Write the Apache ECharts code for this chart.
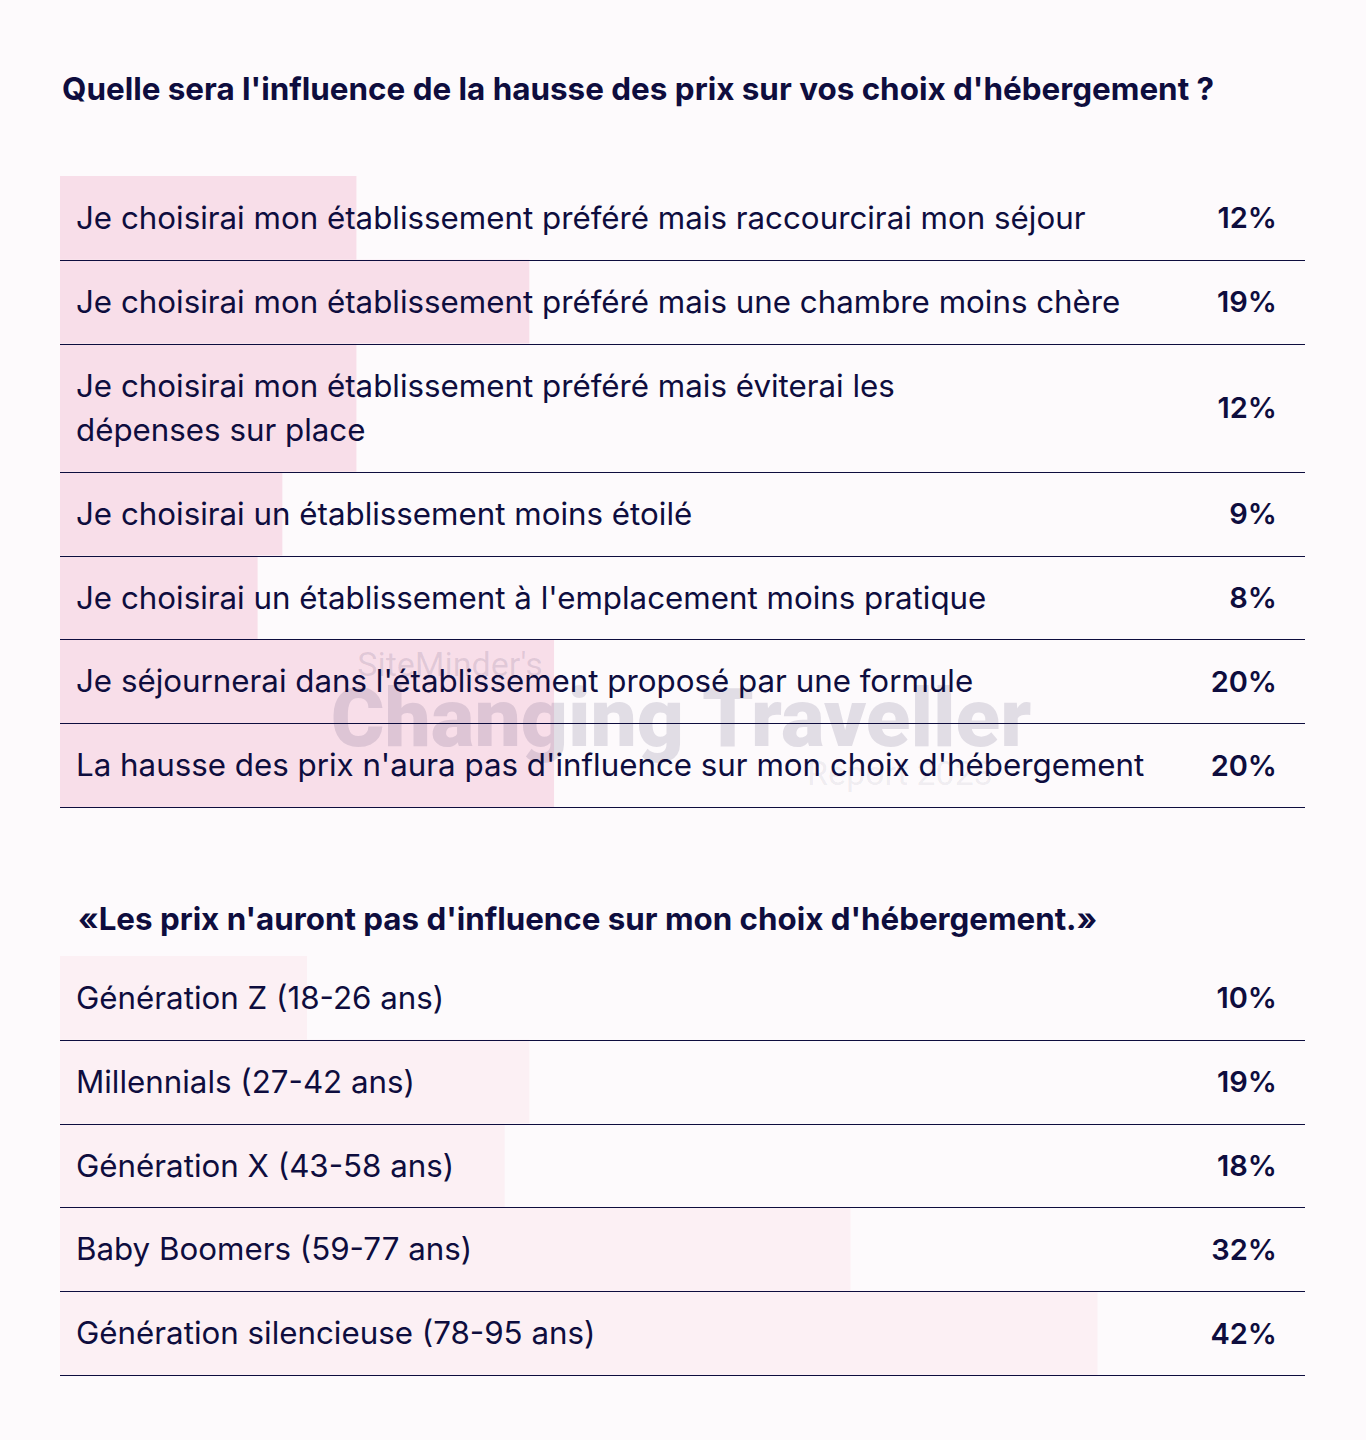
<!DOCTYPE html>
<html><head><meta charset="utf-8">
<script src="https://cdn.jsdelivr.net/npm/echarts@6/dist/echarts.min.js"></script>
<style>html,body{margin:0;padding:0;background:#fdfafc;} #c{width:1366px;height:1440px;}</style>
</head><body><div id="c"></div>
<script>
// ---- data ----
const title1 = "Quelle sera l'influence de la hausse des prix sur vos choix d'hébergement ?";
const categories1 = [
  "Je choisirai mon établissement préféré mais raccourcirai mon séjour",
  "Je choisirai mon établissement préféré mais une chambre moins chère",
  "Je choisirai mon établissement préféré mais éviterai les\ndépenses sur place",
  "Je choisirai un établissement moins étoilé",
  "Je choisirai un établissement à l'emplacement moins pratique",
  "Je séjournerai dans l'établissement proposé par une formule",
  "La hausse des prix n'aura pas d'influence sur mon choix d'hébergement"
];
const values1 = [12, 19, 12, 9, 8, 20, 20];
const title2 = "«Les prix n'auront pas d'influence sur mon choix d'hébergement.»";
const categories2 = [
  "Génération Z (18-26 ans)",
  "Millennials (27-42 ans)",
  "Génération X (43-58 ans)",
  "Baby Boomers (59-77 ans)",
  "Génération silencieuse (78-95 ans)"
];
const values2 = [10, 19, 18, 32, 42];
const watermark = ["SiteMinder's", "Changing Traveller", "Report 2023"];

// ---- styling ----
const NAVY = '#0e0d3e';
const BG = '#fdfafc';
const FONT = 'Inter';
const X_MAX = 50.4;

function rowsOf(cats, vals) {
  let y = 0;
  return cats.map((c, i) => {
    const lines = c.split('\n').length;
    const h = 1 + (lines - 1) * 0.53;
    const item = [vals[i], y, y + h, i];
    y += h;
    return item;
  });
}
const rows1 = rowsOf(categories1, values1);
const rows2 = rowsOf(categories2, values2);
const total1 = rows1[rows1.length - 1][2];
const total2 = rows2[rows2.length - 1][2];

function barRender(color) {
  return function (params, api) {
    const v = api.value(0), y0 = api.value(1), y1 = api.value(2);
    const p0 = api.coord([0, y0]);
    const p1 = api.coord([v, y1]);
    return { type: 'rect', shape: { x: p0[0], y: p0[1], width: p1[0] - p0[0], height: p1[1] - p0[1] }, style: { fill: color } };
  };
}
function textRender(cats) {
  return function (params, api) {
    const v = api.value(0), y0 = api.value(1), y1 = api.value(2), idx = api.value(3);
    const pa = api.coord([0, y0]);
    const pb = api.coord([0, y1]);
    const cs = params.coordSys;
    const mid = (pa[1] + pb[1]) / 2;
    const ly = Math.round(pb[1]) + 0.5;
    return {
      type: 'group',
      children: [
        { type: 'line', shape: { x1: cs.x, y1: ly, x2: cs.x + cs.width, y2: ly }, style: { stroke: NAVY, lineWidth: 1.2 } },
        { type: 'text', x: cs.x + 16, y: mid, style: { text: cats[idx], fill: NAVY, font: '400 31.3px ' + FONT, verticalAlign: 'middle', align: 'left', lineHeight: 44 } },
        { type: 'text', x: cs.x + cs.width - 28, y: mid, style: { text: v + '%', fill: NAVY, font: '600 29px ' + FONT, verticalAlign: 'middle', align: 'right' } }
      ]
    };
  };
}

const chart = echarts.init(document.getElementById('c'), null, { renderer: 'svg' });
chart.setOption({
  backgroundColor: BG,
  animation: false,
  title: [
    { text: title1, left: 57, top: 68, textStyle: { fontFamily: FONT, fontSize: 31.4, fontWeight: 700, color: NAVY } },
    { text: title2, left: 73, top: 898, textStyle: { fontFamily: FONT, fontSize: 31.3, fontWeight: 700, color: NAVY } }
  ],
  grid: [
    { left: 60, width: 1245, top: 176, height: 631 },
    { left: 60, width: 1245, top: 956, height: 419 }
  ],
  xAxis: [
    { gridIndex: 0, type: 'value', min: 0, max: X_MAX, show: false },
    { gridIndex: 1, type: 'value', min: 0, max: X_MAX, show: false }
  ],
  yAxis: [
    { gridIndex: 0, type: 'value', inverse: true, min: 0, max: total1, show: false },
    { gridIndex: 1, type: 'value', inverse: true, min: 0, max: total2, show: false }
  ],
  graphic: [
    { type: 'text', z: 3, x: 450, y: 664, style: { text: watermark[0], fill: 'rgba(60,50,90,0.13)', font: '400 34px Roboto', align: 'center', verticalAlign: 'middle' } },
    { type: 'text', z: 3, x: 681, y: 718, style: { text: watermark[1], fill: 'rgba(60,50,90,0.14)', font: '900 82px Roboto', align: 'center', verticalAlign: 'middle' } },
    { type: 'text', z: 3, x: 900, y: 773, style: { text: watermark[2], fill: 'rgba(60,50,90,0.08)', font: '400 34px Roboto', align: 'center', verticalAlign: 'middle' } }
  ],
  series: [
    { type: 'custom', z: 1, xAxisIndex: 0, yAxisIndex: 0, renderItem: barRender('#f8dee9'), data: rows1, silent: true },
    { type: 'custom', z: 1, xAxisIndex: 1, yAxisIndex: 1, renderItem: barRender('#fcf0f4'), data: rows2, silent: true },
    { type: 'custom', z: 5, xAxisIndex: 0, yAxisIndex: 0, renderItem: textRender(categories1), data: rows1, silent: true },
    { type: 'custom', z: 5, xAxisIndex: 1, yAxisIndex: 1, renderItem: textRender(categories2), data: rows2, silent: true }
  ]
});
</script>
</body></html>
